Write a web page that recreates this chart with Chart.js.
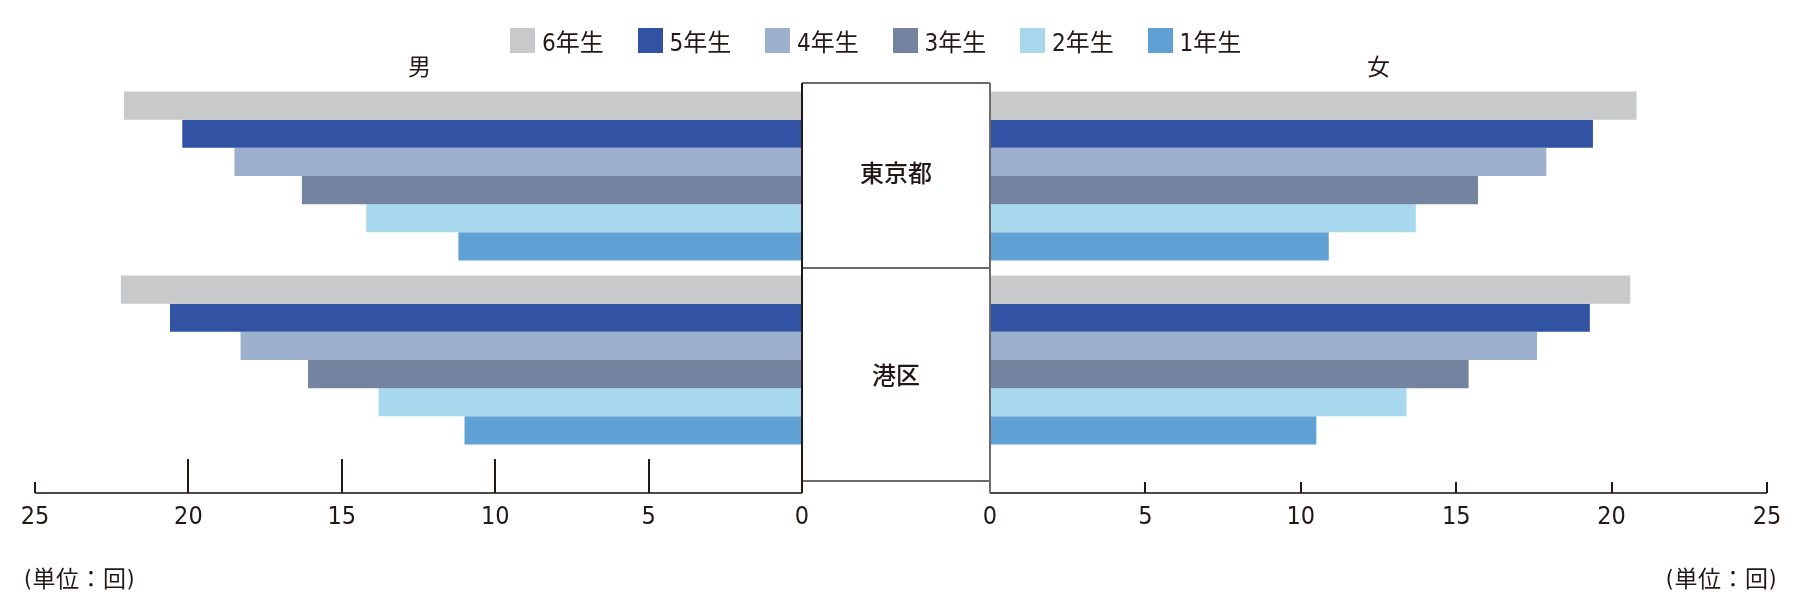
<!DOCTYPE html>
<html>
<head>
<meta charset="utf-8">
<title>学年別 男女別</title>
<script src="https://cdn.jsdelivr.net/npm/chart.js"></script>
<style>
  body { margin: 0; background: #fff; }
  #wrap { position: relative; width: 1800px; height: 606px; overflow: hidden;
          font-family: "Liberation Sans Narrow", "DejaVu Sans Condensed", "Noto Sans CJK JP", sans-serif; color: #231815; }
  canvas { position: absolute; left: 0; top: 0; }
  .lbl { position: absolute; line-height: 1; white-space: nowrap; }
  #legend { position: absolute; left: 510px; top: 23px; display: flex; }
  .item { display: flex; align-items: center; width: 127.5px; font-size: 24px; }
  .sw { width: 25px; height: 25px; margin-right: 7px; }
</style>
</head>
<body>
<div id="wrap">
  <canvas id="male" width="1800" height="606"></canvas>
  <canvas id="female" width="1800" height="606"></canvas>
  <div id="legend"></div>
  <div class="lbl" style="left:408px; top:54px; font-size:23px; font-family:'Noto Sans CJK JP';">男</div>
  <div class="lbl" style="left:1367px; top:54px; font-size:23px; font-family:'Noto Sans CJK JP';">女</div>
  <div class="lbl" style="left:24px; top:568px; font-size:23px; letter-spacing:0.5px;">(単位：回)</div>
  <div class="lbl" style="right:23px; top:568px; font-size:23px; letter-spacing:0.5px;">(単位：回)</div>
</div>
<script>
const categories = ['東京都', '港区'];
const grades = ['6年生', '5年生', '4年生', '3年生', '2年生', '1年生'];
const colors = ['#c8c9cb', '#3253a3', '#9db0cd', '#74839f', '#a8d8ee', '#5fa1d4'];

// 男
const male6 = [22.1, 22.2];
const male5 = [20.2, 20.6];
const male4 = [18.5, 18.3];
const male3 = [16.3, 16.1];
const male2 = [14.2, 13.8];
const male1 = [11.2, 11.0];

// 女
const female6 = [20.8, 20.6];
const female5 = [19.4, 19.3];
const female4 = [17.9, 17.6];
const female3 = [15.7, 15.4];
const female2 = [13.7, 13.4];
const female1 = [10.9, 10.5];

const xTicks = [0, 5, 10, 15, 20, 25];

const AXIS_Y = 493;
const BOX_BOTTOM = 481;
const FONT = '"Liberation Sans Narrow", "DejaVu Sans Condensed", "Noto Sans CJK JP", sans-serif';

// legend
const legend = document.getElementById('legend');
grades.forEach((g, i) => {
    legend.innerHTML += `<div class="item"><div class="sw" style="background:${colors[i]}"></div>${g}</div>`;
});

function makeDatasets(series) {
    return series.map((data, i) => ({
        label: grades[i],
        data: data,
        backgroundColor: colors[i],
        borderWidth: 0
    }));
}

// axis line, ticks and tick labels under each half
const axisPlugin = {
    id: 'axisPlugin',
    afterDraw(chart, args, opts) {
        const ctx = chart.ctx;
        const x = chart.scales.x;
        ctx.save();
        ctx.strokeStyle = '#4d4848';
        ctx.lineWidth = 2;
        ctx.beginPath();
        ctx.moveTo(x.getPixelForValue(0), AXIS_Y);
        ctx.lineTo(x.getPixelForValue(25), AXIS_Y);
        ctx.stroke();

        ctx.strokeStyle = '#231815';
        xTicks.forEach(v => {
            if (v === 0) return;
            const px = Math.round(x.getPixelForValue(v));
            const top = (opts.side === 'left' && v < 25) ? 459 : 482;
            ctx.beginPath();
            ctx.moveTo(px, top);
            ctx.lineTo(px, AXIS_Y);
            ctx.stroke();
        });

        ctx.fillStyle = '#231815';
        ctx.font = '25px ' + FONT;
        ctx.textAlign = 'center';
        ctx.textBaseline = 'middle';
        xTicks.forEach(v => {
            ctx.fillText(String(v), x.getPixelForValue(v), 517);
        });
        ctx.restore();
    }
};

// centre box with the area names
const boxPlugin = {
    id: 'boxPlugin',
    afterDraw(chart) {
        const male = Chart.getChart('male');
        if (!male) return;
        const ctx = chart.ctx;
        const y = chart.scales.y;
        const left = male.scales.x.getPixelForValue(0);
        const right = chart.scales.x.getPixelForValue(0);
        const top = chart.chartArea.top - 1;
        const mid = (y.getPixelForValue(0) + y.getPixelForValue(1)) / 2;

        ctx.save();
        ctx.lineWidth = 2;
        ctx.strokeStyle = '#6e6a6a';
        ctx.beginPath();
        ctx.moveTo(left, top); ctx.lineTo(right, top);
        ctx.moveTo(left, mid); ctx.lineTo(right, mid);
        ctx.moveTo(left, BOX_BOTTOM); ctx.lineTo(right, BOX_BOTTOM);
        ctx.moveTo(right, top); ctx.lineTo(right, AXIS_Y);
        ctx.stroke();
        ctx.strokeStyle = '#231815';
        ctx.beginPath();
        ctx.moveTo(left, top); ctx.lineTo(left, AXIS_Y);
        ctx.stroke();

        ctx.fillStyle = '#231815';
        ctx.font = '500 24px "Noto Sans CJK JP", sans-serif';
        ctx.textAlign = 'center';
        ctx.textBaseline = 'middle';
        const cx = (left + right) / 2;
        ctx.fillText(categories[0], cx, (top + mid) / 2 - 3);
        ctx.fillText(categories[1], cx, (mid + BOX_BOTTOM) / 2);
        ctx.restore();
    }
};

function baseOptions(side, padding) {
    return {
        indexAxis: 'y',
        responsive: false,
        animation: false,
        devicePixelRatio: 1,
        layout: { padding: padding },
        datasets: { bar: { categoryPercentage: 0.918, barPercentage: 1.0 } },
        scales: {
            x: { type: 'linear', min: 0, max: 25, reverse: side === 'left', display: false },
            y: { type: 'category', display: false }
        },
        plugins: {
            legend: { display: false },
            tooltip: { enabled: false },
            axisPlugin: { side: side }
        }
    };
}

new Chart(document.getElementById('male'), {
    type: 'bar',
    data: { labels: categories, datasets: makeDatasets([male6, male5, male4, male3, male2, male1]) },
    options: baseOptions('left', { left: 35, right: 998, top: 84, bottom: 154 }),
    plugins: [axisPlugin]
});

new Chart(document.getElementById('female'), {
    type: 'bar',
    data: { labels: categories, datasets: makeDatasets([female6, female5, female4, female3, female2, female1]) },
    options: baseOptions('right', { left: 990, right: 33, top: 84, bottom: 154 }),
    plugins: [axisPlugin, boxPlugin]
});
</script>
</body>
</html>
